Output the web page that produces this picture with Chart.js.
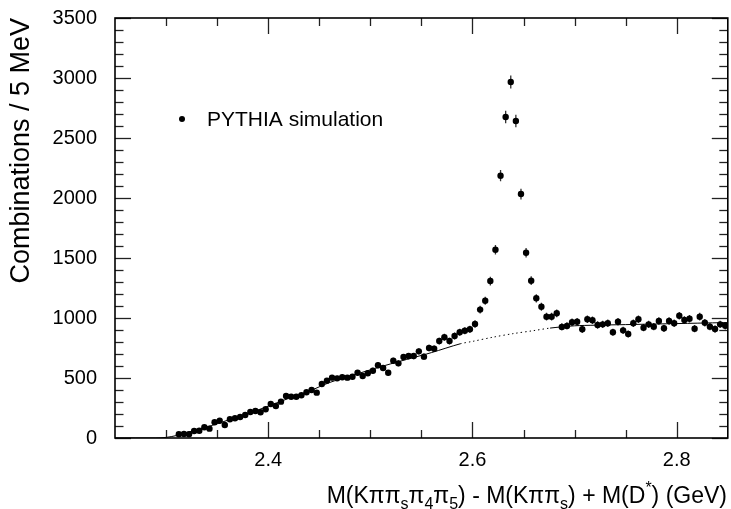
<!DOCTYPE html>
<html>
<head>
<meta charset="utf-8">
<script src="https://cdn.jsdelivr.net/npm/chart.js@4/dist/chart.umd.min.js"></script>
<style>
  html, body { margin: 0; padding: 0; background: #ffffff; }
  canvas { display: block; }
</style>
</head>
<body>
<canvas id="c" width="731" height="509"></canvas>
<script>
// ---- data ----
const massBins = [
  2.3125, 2.3175, 2.3225, 2.3275, 2.3325, 2.3375, 2.3425, 2.3475, 2.3525, 2.3575,
  2.3625, 2.3675, 2.3725, 2.3775, 2.3825, 2.3875, 2.3925, 2.3975, 2.4025, 2.4075,
  2.4125, 2.4175, 2.4225, 2.4275, 2.4325, 2.4375, 2.4425, 2.4475, 2.4525, 2.4575,
  2.4625, 2.4675, 2.4725, 2.4775, 2.4825, 2.4875, 2.4925, 2.4975, 2.5025, 2.5075,
  2.5125, 2.5175, 2.5225, 2.5275, 2.5325, 2.5375, 2.5425, 2.5475, 2.5525, 2.5575,
  2.5625, 2.5675, 2.5725, 2.5775, 2.5825, 2.5875, 2.5925, 2.5975, 2.6025, 2.6075,
  2.6125, 2.6175, 2.6225, 2.6275, 2.6325, 2.6375, 2.6425, 2.6475, 2.6525, 2.6575,
  2.6625, 2.6675, 2.6725, 2.6775, 2.6825, 2.6875, 2.6925, 2.6975, 2.7025, 2.7075,
  2.7125, 2.7175, 2.7225, 2.7275, 2.7325, 2.7375, 2.7425, 2.7475, 2.7525, 2.7575,
  2.7625, 2.7675, 2.7725, 2.7775, 2.7825, 2.7875, 2.7925, 2.7975, 2.8025, 2.8075,
  2.8125, 2.8175, 2.8225, 2.8275, 2.8325, 2.8375, 2.8425, 2.8475
];
const combinations = [
  31, 33, 31, 58, 61, 89, 78, 131, 144, 108,
  156, 164, 175, 192, 217, 225, 214, 239, 283, 267,
  303, 350, 344, 344, 356, 381, 400, 378, 450, 478,
  503, 497, 506, 503, 511, 544, 517, 539, 561, 606,
  583, 544, 644, 622, 675, 683, 683, 722, 678, 750,
  744, 808, 839, 808, 850, 881, 894, 906, 950, 1070,
  1144, 1308, 1569, 2186, 2675, 2967, 2642, 2033, 1544, 1311,
  1164, 1094, 1011, 1011, 1039, 926, 934, 964, 969, 906,
  989, 981, 942, 947, 956, 881, 969, 897, 867, 956,
  989, 919, 947, 928, 975, 914, 975, 956, 1019, 983,
  994, 911, 1011, 961, 928, 908, 947, 935
];
// background fit curve
const fitMass = [2.25, 2.29, 2.30, 2.31, 2.32, 2.34, 2.36, 2.38, 2.40, 2.42, 2.44, 2.46, 2.48, 2.50,
                 2.52, 2.54, 2.56, 2.588, 2.60, 2.62, 2.64, 2.66, 2.676, 2.70, 2.72, 2.75, 2.78, 2.82, 2.85];
const fitCurve = [0, 0, 5, 20, 45, 92, 147, 203, 265, 330, 390, 462, 515, 568,
                  618, 665, 712, 785, 805, 840, 870, 895, 916, 935, 940, 945, 950, 957, 962];
const dottedFrom = 2.588, dottedTo = 2.676;

const xTickValues = [2.4, 2.6, 2.8];
const xTickLabels = ['2.4', '2.6', '2.8'];
const xMinorTicks = [2.30, 2.35, 2.45, 2.50, 2.55, 2.65, 2.70, 2.75];
const yTickValues = [0, 500, 1000, 1500, 2000, 2500, 3000, 3500];
const yTickLabels = ['0', '500', '1000', '1500', '2000', '2500', '3000', '3500'];
const yMinorTicks = [];
for (let v = 100; v < 3500; v += 100) if (v % 500 !== 0) yMinorTicks.push(v);

const legendLabel = 'PYTHIA simulation';
const yTitle = 'Combinations / 5 MeV';
// x title pieces: [text, style]  (n = normal, b = subscript, p = superscript)
const xTitlePieces = [
  ['M(K\u03c0\u03c0', 'n'], ['s', 'b'], ['\u03c0', 'n'], ['4', 'b'], ['\u03c0', 'n'], ['5', 'b'],
  [') - M(K\u03c0\u03c0', 'n'], ['s', 'b'], [') + M(D', 'n'], ['*', 'p'], [') (GeV)', 'n']
];

const FONT = '"Liberation Sans", Arial, Helvetica, sans-serif';

const framePlugin = {
  id: 'frame',
  beforeDatasetsDraw(chart) {
    // error bars (Poisson, sqrt N) under the points
    const ctx = chart.ctx, ys = chart.scales.y;
    const meta = chart.getDatasetMeta(0);
    ctx.save();
    ctx.beginPath();
    ctx.rect(chart.chartArea.left, chart.chartArea.top, chart.chartArea.right - chart.chartArea.left, chart.chartArea.bottom - chart.chartArea.top);
    ctx.clip();
    ctx.strokeStyle = '#333';
    ctx.lineWidth = 1.3;
    meta.data.forEach((pt, i) => {
      const v = combinations[i];
      const e = Math.sqrt(v);
      ctx.beginPath();
      ctx.moveTo(pt.x, ys.getPixelForValue(v + e));
      ctx.lineTo(pt.x, ys.getPixelForValue(v - e));
      ctx.stroke();
    });
    ctx.restore();
  },
  afterDraw(chart) {
    const ctx = chart.ctx;
    const {left, right, top, bottom} = chart.chartArea;
    const xs = chart.scales.x, ys = chart.scales.y;
    ctx.save();
    // ticks (inward, all four sides)
    ctx.strokeStyle = '#222';
    ctx.lineWidth = 1.3;
    const vt = (px, len) => {
      ctx.beginPath(); ctx.moveTo(px, bottom); ctx.lineTo(px, bottom - len); ctx.stroke();
      ctx.beginPath(); ctx.moveTo(px, top); ctx.lineTo(px, top + len); ctx.stroke();
    };
    const ht = (py, len) => {
      ctx.beginPath(); ctx.moveTo(left, py); ctx.lineTo(left + len, py); ctx.stroke();
      ctx.beginPath(); ctx.moveTo(right, py); ctx.lineTo(right - len, py); ctx.stroke();
    };
    xTickValues.forEach(v => vt(Math.round(xs.getPixelForValue(v)) + 0.5, 16));
    xMinorTicks.forEach(v => vt(Math.round(xs.getPixelForValue(v)) + 0.5, 8));
    yTickValues.forEach(v => ht(Math.round(ys.getPixelForValue(v)) + 0.5, 16));
    yMinorTicks.forEach(v => ht(Math.round(ys.getPixelForValue(v)) + 0.5, 8.5));
    // frame
    ctx.strokeStyle = '#000';
    ctx.lineWidth = 1.6;
    ctx.strokeRect(left, top, right - left, bottom - top);

    // legend
    ctx.fillStyle = '#000';
    ctx.beginPath();
    ctx.arc(182, 119, 3, 0, Math.PI * 2);
    ctx.fill();
    ctx.font = '21px ' + FONT;
    ctx.textAlign = 'left';
    ctx.textBaseline = 'middle';
    ctx.fillText(legendLabel, 207, 120);

    // x title with sub/superscripts, right aligned at the frame edge
    const big = '23px ' + FONT, small = '16px ' + FONT;
    let total = 0;
    xTitlePieces.forEach(([t, s]) => { ctx.font = s === 'n' ? big : small; total += ctx.measureText(t).width; });
    let x = 727 - total;
    const base = 503;
    ctx.textBaseline = 'alphabetic';
    xTitlePieces.forEach(([t, s]) => {
      ctx.font = s === 'n' ? big : small;
      const yy = s === 'n' ? base : (s === 'b' ? base + 6 : base - 10);
      ctx.fillText(t, x, yy);
      x += ctx.measureText(t).width;
    });
    ctx.restore();
  }
};

const pointData = massBins.map((m, i) => ({x: m, y: combinations[i]}));
const fitData = fitMass.map((m, i) => ({x: m, y: fitCurve[i]}));

new Chart(document.getElementById('c'), {
  type: 'scatter',
  data: {
    datasets: [
      {
        label: legendLabel,
        data: pointData,
        showLine: false,
        pointRadius: 3.2,
        pointBackgroundColor: '#000',
        pointBorderWidth: 0,
        pointHoverRadius: 3.2
      },
      {
        type: 'line',
        label: 'fit',
        data: fitData,
        showLine: true,
        borderColor: '#000',
        borderWidth: 1,
        pointRadius: 0,
        fill: false,
        tension: 0.3,
        segment: {
          borderDash: c => (c.p0.parsed.x >= dottedFrom - 1e-9 && c.p1.parsed.x <= dottedTo + 1e-9) ? [1.4, 3] : undefined
        }
      }
    ]
  },
  options: {
    responsive: false,
    animation: false,
    events: [],
    layout: { padding: { left: 0, right: 3, top: 18, bottom: 0 } },
    plugins: { legend: { display: false }, tooltip: { enabled: false } },
    scales: {
      x: {
        type: 'linear',
        min: 2.25, max: 2.85,
        grid: { display: false, drawTicks: false },
        border: { display: false },
        afterBuildTicks: s => { s.ticks = xTickValues.map(v => ({value: v})); },
        afterFit: s => { s.height = 71; s.paddingLeft = 0; s.paddingRight = 0; },
        ticks: {
          padding: 10,
          color: '#000',
          font: { family: FONT, size: 20 },
          maxRotation: 0,
          callback: v => xTickLabels[xTickValues.indexOf(v)] ?? ''
        },
        title: { display: false }
      },
      y: {
        type: 'linear',
        min: 0, max: 3500,
        grid: { display: false, drawTicks: false },
        border: { display: false },
        afterBuildTicks: s => { s.ticks = yTickValues.map(v => ({value: v})); },
        afterFit: s => { s.width = 115; s.paddingTop = 0; s.paddingBottom = 0; },
        ticks: {
          padding: 18,
          color: '#000',
          font: { family: FONT, size: 20 },
          callback: v => yTickLabels[yTickValues.indexOf(v)] ?? ''
        },
        title: {
          display: true,
          text: yTitle,
          align: 'end',
          color: '#000',
          font: { family: FONT, size: 27 },
          padding: { top: 5, bottom: 0 }
        }
      }
    }
  },
  plugins: [framePlugin]
});
</script>
</body>
</html>
